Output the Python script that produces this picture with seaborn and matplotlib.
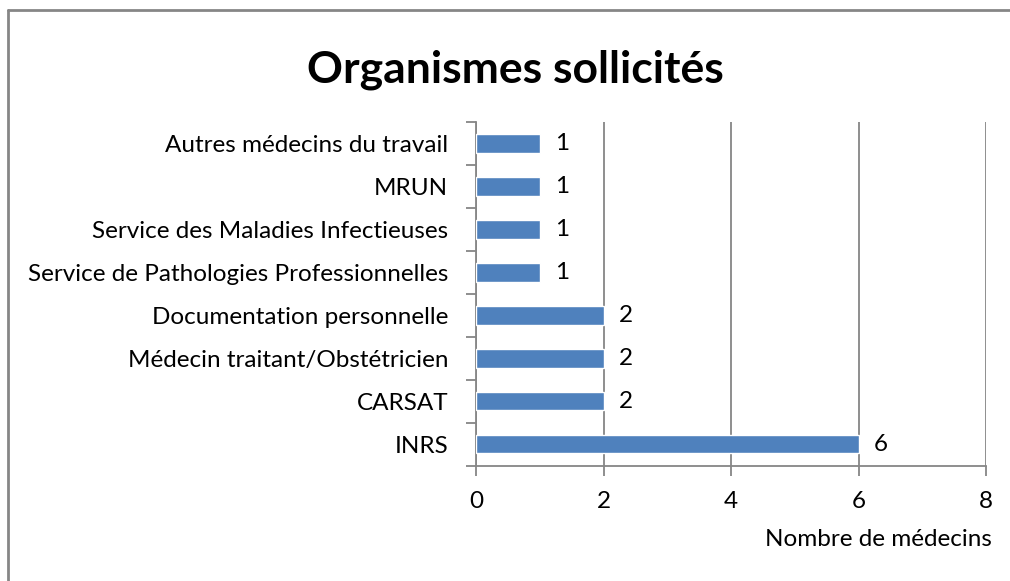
import matplotlib
matplotlib.use("Agg")
import matplotlib.pyplot as plt
from matplotlib.lines import Line2D
import numpy as np
import pandas as pd
import seaborn as sns

# Données
organismes = [
    "Autres médecins du travail",
    "MRUN",
    "Service des Maladies Infectieuses",
    "Service de Pathologies Professionnelles",
    "Documentation personnelle",
    "Médecin traitant/Obstétricien",
    "CARSAT",
    "INRS",
]
nb_medecins = [1, 1, 1, 1, 2, 2, 2, 6]
x_ticks = [0, 2, 4, 6, 8]

df = pd.DataFrame({"organisme": organismes, "nb": nb_medecins})

sns.set_style("white")
plt.rcParams["font.family"] = ["Lato", "DejaVu Sans"]
plt.rcParams["text.color"] = "black"
plt.rcParams["xtick.labelcolor"] = "black"
plt.rcParams["ytick.labelcolor"] = "black"

GRIS = "#868686"
BLEU = "#4F81BD"
TAILLE = 17.5

fig = plt.figure(figsize=(10.1, 5.81), dpi=100)
ax = fig.add_axes([0.4713, 0.198, 0.505, 0.592])

sns.barplot(data=df, x="nb", y="organisme", orient="h", color=BLEU,
            width=0.42, saturation=1, ax=ax, zorder=3)

ax.set_xlim(0, 8)
ax.set_ylim(len(organismes) - 0.5, -0.5)
ax.set_xticks(x_ticks)
ax.set_xticklabels([str(t) for t in x_ticks], fontsize=TAILLE)
ax.tick_params(axis="x", bottom=True, length=7, width=1.3, color=GRIS,
               pad=11, labelcolor="black")

# étiquettes de catégories sans tiret, tirets aux limites
ax.tick_params(axis="y", which="major", left=True, length=0,
               labelsize=TAILLE, pad=20, labelcolor="black")
ax.set_yticks(np.arange(-0.5, len(organismes)), minor=True)
ax.tick_params(axis="y", which="minor", left=True, length=7, width=1.3,
               color=GRIS)

ax.xaxis.grid(True, color=GRIS, linewidth=1.3, zorder=0)
ax.set_axisbelow(True)
for side in ["top", "right"]:
    ax.spines[side].set_visible(False)
for side in ["left", "bottom"]:
    ax.spines[side].set_color(GRIS)
    ax.spines[side].set_linewidth(1.3)

ax.set_xlabel("")
ax.set_ylabel("")

# étiquettes de valeurs
for i, v in enumerate(nb_medecins):
    ax.annotate(str(v), (v, i), xytext=(11, 0), textcoords="offset points",
                va="center", ha="left", fontsize=TAILLE, color="black")

fig.text(0.51, 0.880, "Organismes sollicités", ha="center", va="center",
         fontsize=32, fontweight="bold", color="black")
fig.text(0.982, 0.072, "Nombre de médecins", ha="right", va="center",
         fontsize=TAILLE, color="black")

# cadre du graphique
fig.add_artist(Line2D([0.008, 1.0], [0.982, 0.982], color=GRIS, lw=2,
                      transform=fig.transFigure))
fig.add_artist(Line2D([0.008, 0.008], [0.0, 0.982], color=GRIS, lw=2,
                      transform=fig.transFigure))

fig.savefig("out.png", dpi=100)
